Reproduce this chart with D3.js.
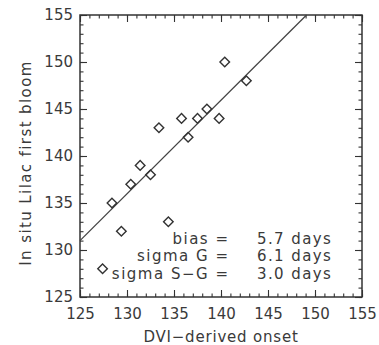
<!DOCTYPE html>
<html><head><meta charset="utf-8">
<script src="https://cdn.jsdelivr.net/npm/d3@7"></script>
<style>
html,body{margin:0;padding:0;background:#fff;}
text{font-family:"DejaVu Sans",Verdana,sans-serif;fill:#3a3a3a;}
</style></head>
<body>
<svg id="c" width="379" height="345"></svg>
<script>
const dviOnset = [127.4, 128.4, 129.4, 130.4, 131.4, 132.5, 133.4, 134.4, 135.8, 136.5, 137.5, 138.5, 139.8, 140.4, 142.7];
const lilacBloom = [128, 135, 132, 137, 139, 138, 143, 133, 144, 142, 144, 145, 144, 150, 148];
const fitLineX = [125, 149.1];
const fitLineY = [131, 155];
const tickValues = [125, 130, 135, 140, 145, 150, 155];
const statLabels = ["bias =", "sigma G =", "sigma S\u2212G ="];
const statValues = ["5.7 days", "6.1 days", "3.0 days"];
const xTitle = "DVI\u2212derived onset";
const yTitle = "In situ Lilac first bloom";

const svg = d3.select("#c");
const L = 80, T = 15, R = 362, B = 297;
const x = d3.scaleLinear().domain([125, 155]).range([L, R]);
const y = d3.scaleLinear().domain([125, 155]).range([B, T]);
const minor = d3.range(125, 156, 1);
const ink = "#333";
const FONT = "DejaVu Sans, Verdana, sans-serif";

function styleAxis(g){
  g.select(".domain").remove();
  g.selectAll(".tick line").attr("stroke", ink).attr("stroke-width", 1.1);
  g.selectAll("text").attr("font-size", 15).attr("fill", "#3a3a3a").attr("font-family", FONT);
}
// major axes
svg.append("g").attr("transform", `translate(0,${B})`)
  .call(d3.axisBottom(x).tickValues(tickValues).tickSize(-7).tickPadding(11.5).tickFormat(d3.format("d"))).call(styleAxis);
svg.append("g").attr("transform", `translate(${L},0)`)
  .call(d3.axisLeft(y).tickValues(tickValues).tickSize(-7).tickPadding(7).tickFormat(d3.format("d"))).call(styleAxis);
svg.append("g").attr("transform", `translate(0,${T})`)
  .call(d3.axisTop(x).tickValues(tickValues).tickSize(-7).tickFormat("")).call(styleAxis);
svg.append("g").attr("transform", `translate(${R},0)`)
  .call(d3.axisRight(y).tickValues(tickValues).tickSize(-7).tickFormat("")).call(styleAxis);
// minor ticks
svg.append("g").attr("transform", `translate(0,${B})`).call(d3.axisBottom(x).tickValues(minor).tickSize(-3.5).tickFormat("")).call(styleAxis);
svg.append("g").attr("transform", `translate(${L},0)`).call(d3.axisLeft(y).tickValues(minor).tickSize(-3.5).tickFormat("")).call(styleAxis);
svg.append("g").attr("transform", `translate(0,${T})`).call(d3.axisTop(x).tickValues(minor).tickSize(-3.5).tickFormat("")).call(styleAxis);
svg.append("g").attr("transform", `translate(${R},0)`).call(d3.axisRight(y).tickValues(minor).tickSize(-3.5).tickFormat("")).call(styleAxis);

// frame
svg.append("rect").attr("x", L).attr("y", T).attr("width", R - L).attr("height", B - T)
  .attr("fill", "none").attr("stroke", ink).attr("stroke-width", 1.5);

// fit line
svg.append("line")
  .attr("x1", x(fitLineX[0])).attr("y1", y(fitLineY[0]))
  .attr("x2", x(fitLineX[1])).attr("y2", y(fitLineY[1]))
  .attr("stroke", "#444").attr("stroke-width", 1.3);

// points
const sym = d3.symbol().type(d3.symbolSquare).size(46);
svg.append("g").selectAll("path").data(dviOnset.map((d, i) => [d, lilacBloom[i]]))
  .join("path")
  .attr("d", sym)
  .attr("transform", d => `translate(${x(d[0])},${y(d[1])}) rotate(45)`)
  .attr("fill", "none").attr("stroke", "#333").attr("stroke-width", 1.4);

// stats
const st = svg.append("g");
statLabels.forEach((s, i) => {
  st.append("text").attr("x", 229.5).attr("y", 243.5 + i * 17.5).attr("text-anchor", "end")
    .attr("font-size", 15).attr("letter-spacing", 1.5).text(s);
  st.append("text").attr("x", 257).attr("y", 243.5 + i * 17.5)
    .attr("font-size", 15).attr("letter-spacing", 1.4).text(statValues[i]);
});

// titles
svg.append("text").attr("x", (L + R) / 2).attr("y", 342).attr("text-anchor", "middle")
  .attr("font-size", 15).attr("letter-spacing", 0.8).text(xTitle);
svg.append("text").attr("transform", `translate(31,${(T + B) / 2 + 7}) rotate(-90)`).attr("text-anchor", "middle")
  .attr("font-size", 15).attr("letter-spacing", 1.4).text(yTitle);
</script>
</body></html>
